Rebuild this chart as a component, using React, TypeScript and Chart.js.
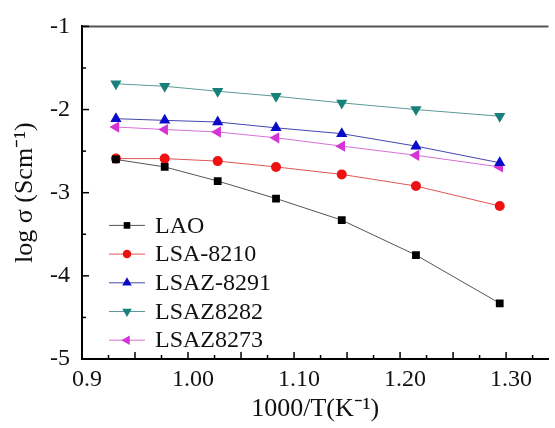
import React, { useEffect, useRef } from "react";
import { Chart, registerables } from "chart.js";

Chart.register(...registerables);

const xValues = [0.932, 0.978, 1.028, 1.083, 1.145, 1.215, 1.294];
const seriesNames = ["LAO", "LSA-8210", "LSAZ-8291", "LSAZ8282", "LSAZ8273"];
const lao = [-2.6, -2.69, -2.86, -3.07, -3.33, -3.75, -4.33];
const lsa8210 = [-2.59, -2.59, -2.62, -2.69, -2.78, -2.92, -3.16];
const lsaz8291 = [-2.11, -2.13, -2.15, -2.22, -2.29, -2.44, -2.64];
const lsaz8282 = [-1.69, -1.72, -1.78, -1.84, -1.92, -2.0, -2.08];
const lsaz8273 = [-2.21, -2.24, -2.27, -2.34, -2.44, -2.55, -2.69];
const seriesValues = [lao, lsa8210, lsaz8291, lsaz8282, lsaz8273];

const xTickValues = [0.9, 1.0, 1.1, 1.2, 1.3];
const xTickLabels = ["0.9", "1.00", "1.10", "1.20", "1.30"];
const yTickValues = [-5, -4, -3, -2, -1];
const yTickLabels = ["-5", "-4", "-3", "-2", "-1"];

const markerColors = ["#000000", "#ee1111", "#0a0ac8", "#17807a", "#d633d6"];
const lineColors = ["#555555", "#e05555", "#4545b0", "#5a9a96", "#d870d8"];
const pointStyles = ["rect", "circle", "triangle", "triangle", "triangle"];
const pointRotations = [0, 0, 0, 180, -90];
const pointRadii = [5.5, 5, 6.5, 6.5, 6.5];

const FONT = "'Liberation Serif', 'Times New Roman', serif";

const decorPlugin = {
  id: "decor",
  afterDraw(chart: any) {
    const { ctx, chartArea, scales } = chart;
    const xs = scales.x;
    const ys = scales.y;
    ctx.save();
    // top border
    ctx.strokeStyle = "#555555";
    ctx.lineWidth = 2;
    ctx.beginPath();
    ctx.moveTo(chartArea.left, chartArea.top);
    ctx.lineTo(chartArea.right, chartArea.top);
    ctx.stroke();
    // inward ticks
    ctx.strokeStyle = "#000";
    ctx.lineWidth = 1.5;
    for (let i = 0; i <= 8; i++) {
      const v = -5 + i * 0.5;
      const py = ys.getPixelForValue(v);
      const len = i % 2 === 0 ? 7 : 4;
      ctx.beginPath();
      ctx.moveTo(chartArea.left, py);
      ctx.lineTo(chartArea.left + len, py);
      ctx.stroke();
    }
    for (let i = 1; i <= 17; i++) {
      const v = 0.9 + i * 0.025;
      if (v > xs.max) break;
      const px = xs.getPixelForValue(v);
      const len = i % 2 === 0 ? 7 : 4;
      ctx.beginPath();
      ctx.moveTo(px, chartArea.bottom);
      ctx.lineTo(px, chartArea.bottom - len);
      ctx.stroke();
    }
    // legend
    const lx0 = chartArea.left + 27;
    const lx1 = chartArea.left + 63;
    const tx = chartArea.left + 73;
    ctx.font = `24px ${FONT}`;
    ctx.textBaseline = "middle";
    ctx.textAlign = "left";
    chart.data.datasets.forEach((ds: any, i: number) => {
      const y = chartArea.top + 199 + i * 28.7;
      ctx.strokeStyle = lineColors[i];
      ctx.lineWidth = 1;
      ctx.beginPath();
      ctx.moveTo(lx0, y);
      ctx.lineTo(lx1, y);
      ctx.stroke();
      ctx.fillStyle = markerColors[i];
      ctx.strokeStyle = markerColors[i];
      (Chart as any).helpers
        ? null
        : null;
      drawMarker(ctx, pointStyles[i], pointRotations[i], pointRadii[i] * 0.85, (lx0 + lx1) / 2, y);
      ctx.fillStyle = "#111";
      ctx.fillText(ds.label, tx, y + 1);
    });
    ctx.restore();
  },
};

function drawMarker(ctx: CanvasRenderingContext2D, style: string, rot: number, r: number, x: number, y: number) {
  ctx.save();
  ctx.translate(x, y);
  ctx.rotate((rot * Math.PI) / 180);
  ctx.beginPath();
  if (style === "rect") {
    const s = r * Math.SQRT1_2;
    ctx.rect(-s, -s, 2 * s, 2 * s);
  } else if (style === "circle") {
    ctx.arc(0, 0, r, 0, Math.PI * 2);
  } else {
    for (let k = 0; k < 3; k++) {
      const a = (k * 2 * Math.PI) / 3;
      const px = Math.sin(a) * r;
      const py = -Math.cos(a) * r;
      if (k === 0) ctx.moveTo(px, py);
      else ctx.lineTo(px, py);
    }
    ctx.closePath();
  }
  ctx.fill();
  ctx.restore();
}

export default function App() {
  const ref = useRef<HTMLCanvasElement>(null);
  useEffect(() => {
    document.body.style.margin = "0";
    const datasets = seriesNames.map((name, i) => ({
      label: name,
      data: xValues.map((x, j) => ({ x, y: seriesValues[i][j] })),
      borderColor: lineColors[i],
      borderWidth: 1,
      backgroundColor: markerColors[i],
      pointBackgroundColor: markerColors[i],
      pointBorderColor: markerColors[i],
      pointBorderWidth: 0,
      pointStyle: pointStyles[i],
      pointRotation: pointRotations[i],
      pointRadius: pointRadii[i],
      tension: 0,
      fill: false,
    }));
    const chart = new Chart(ref.current as HTMLCanvasElement, {
      type: "line",
      data: { datasets },
      plugins: [decorPlugin],
      options: {
        animation: false,
        responsive: false,
        layout: { padding: { top: 19, right: 0, left: 0, bottom: 0 } },
        plugins: { legend: { display: false }, tooltip: { enabled: false } },
        scales: {
          x: {
            type: "linear",
            min: 0.9,
            max: 1.34,
            afterBuildTicks: (s: any) => {
              s.ticks = xTickValues.map((v) => ({ value: v }));
            },
            afterFit: (s: any) => {
              s.height = 69;
            },
            ticks: {
              callback: (_v: any, idx: number) => xTickLabels[idx],
              font: { family: FONT, size: 24 },
              color: "#111",
              padding: 6,
              labelOffset: 5,
              maxRotation: 0,
              autoSkip: false,
            },
            grid: { drawOnChartArea: false, drawTicks: false },
            border: { display: true, color: "#000", width: 2 },
            title: {
              display: true,
              text: "1000/T(K\u207B\u00B9)",
              font: { family: FONT, size: 26 },
              color: "#111",
              padding: { top: 0, bottom: 3 },
            },
          },
          y: {
            type: "linear",
            min: -5,
            max: -1,
            afterBuildTicks: (s: any) => {
              s.ticks = yTickValues.map((v) => ({ value: v }));
            },
            afterFit: (s: any) => {
              s.width = 82;
            },
            ticks: {
              callback: (_v: any, idx: number) => yTickLabels[idx],
              font: { family: FONT, size: 24 },
              color: "#111",
              padding: 12,
              autoSkip: false,
            },
            grid: { drawOnChartArea: false, drawTicks: false },
            border: { display: true, color: "#000", width: 2 },
            title: {
              display: true,
              text: "log \u03C3 (Scm\u207B\u00B9)",
              font: { family: FONT, size: 26 },
              color: "#111",
              padding: { top: 10, bottom: 0 },
            },
          },
        },
      },
    } as any);
    return () => chart.destroy();
  }, []);
  return (
    <div style={{ position: "absolute", left: 0, top: 0, width: 555, height: 428 }}>
      <canvas ref={ref} width={555} height={428} />
    </div>
  );
}
